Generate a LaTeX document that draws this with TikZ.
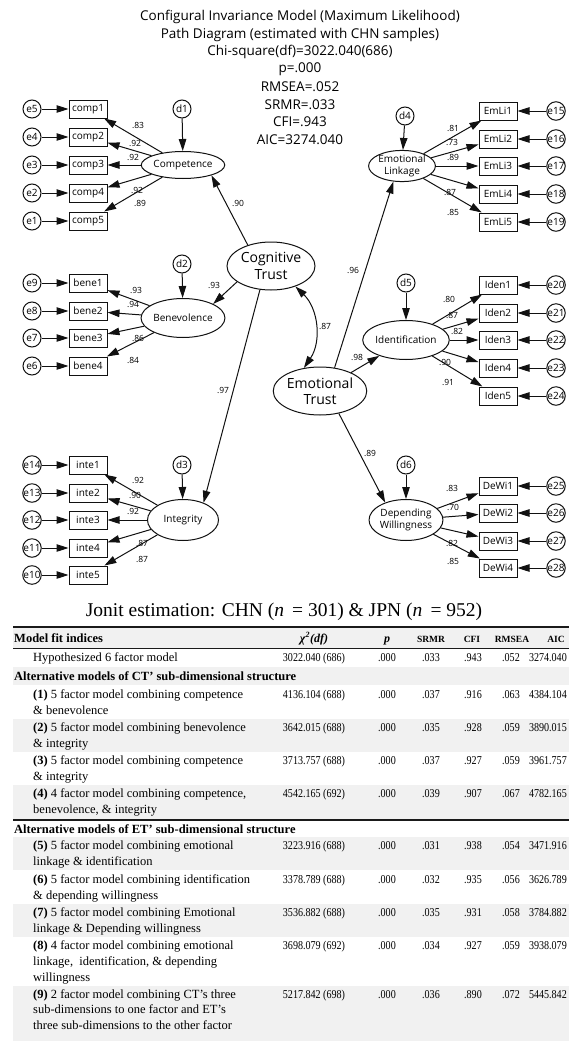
\documentclass[tikz,border=0pt]{standalone}
\usepackage{fontspec}
\usepackage{xcolor}
\usepackage{tikz}
\usetikzlibrary{arrows.meta,shapes.geometric}
\setmainfont{Liberation Serif}
\newfontfamily\amosfont{Open Sans}
\newfontfamily\tabnumfont[FakeStretch=0.84]{Liberation Serif}
\definecolor{pathblack}{HTML}{111111}
\definecolor{bandgray}{HTML}{F1F1F1}
\definecolor{rulegray}{HTML}{1A1A1A}

\tikzset{
  amosline/.style={line width=1pt, draw=pathblack, -{Triangle[length=12pt,width=7.5pt]}},
  obsbox/.style={draw=pathblack, line width=1pt, minimum width=38pt, minimum height=18pt,
    inner sep=0pt, font=\amosfont\fontsize{10}{11}\selectfont},
  errcirc/.style={draw=pathblack, circle, line width=1pt, minimum size=18pt, inner sep=0pt,
    font=\amosfont\fontsize{10}{11}\selectfont},
  latsmall/.style={draw=pathblack, ellipse, line width=1pt, minimum width=71pt,
    minimum height=39pt, inner sep=0pt, align=center,
    font=\amosfont\fontsize{10}{12}\selectfont},
  latbig/.style={latsmall, minimum width=88pt, minimum height=48pt,
    font=\amosfont\fontsize{14}{16.5}\selectfont},
  coef/.style={inner sep=0pt, font=\amosfont\fontsize{8.5}{9}\selectfont},
  fitline/.style={inner sep=0pt, font=\amosfont\fontsize{13.5}{15}\selectfont},
  celltxt/.style={anchor=base west, inner sep=0pt, font=\fontsize{12.5}{14}\selectfont},
  cellnum/.style={anchor=base, inner sep=0pt, font=\tabnumfont\fontsize{12}{14}\selectfont},
  headtxt/.style={anchor=base, inner sep=0pt, font=\bfseries\fontsize{9.5}{12}\selectfont},
}

\begin{document}
\begin{tikzpicture}[x=1pt, y=-1pt]
  \useasboundingbox (0,0) rectangle (569,1041);

  % fit summary
  \node[fitline] (fit1) at (300,17)    {Configural Invariance Model (Maximum Likelihood)};
  \node[fitline] (fit2) at (300,34.5)  {Path Diagram (estimated with CHN samples)};
  \node[fitline] (fit3) at (300,52)    {Chi-square(df)=3022.040(686)};
  \node[fitline] (fit4) at (300,69.5)  {p=.000};
  \node[fitline] (fit5) at (300,87)    {RMSEA=.052};
  \node[fitline] (fit6) at (300,104.5) {SRMR=.033};
  \node[fitline] (fit7) at (300,122)   {CFI=.943};
  \node[fitline] (fit8) at (300,139.5) {AIC=3274.040};

  % latent factors
  \node[latbig] (CogT) at (271,266) {Cognitive\\Trust};
  \node[latbig] (EmoT) at (320,391) {Emotional\\Trust};
  \node[latsmall, minimum height=27pt] (Comp) at (183,165) {Competence};
  \node[latsmall] (Bene) at (183,318) {Benevolence};
  \node[latsmall, minimum height=41pt] (Inte) at (183,520) {Integrity};
  \node[latsmall, minimum width=62pt, minimum height=31pt] (EmLk) at (402,166) {Emotional\\Linkage};
  \node[latsmall] (Iden) at (406,340) {Identification};
  \node[latsmall, minimum height=41pt] (DeWl) at (406,520) {Depending\\Willingness};

  % disturbances
  \node[errcirc] (d1) at (182,109) {d1};
  \node[errcirc] (d2) at (182,264) {d2};
  \node[errcirc] (d3) at (182,465) {d3};
  \node[errcirc] (d4) at (405,116) {d4};
  \node[errcirc] (d5) at (406,283) {d5};
  \node[errcirc] (d6) at (406,465) {d6};
  \foreach \d/\f in {d1/Comp,d2/Bene,d3/Inte,d4/EmLk,d5/Iden,d6/DeWl}
    \draw[amosline] (\d) -- (\f);

  % indicators, left side
  \foreach \n/\y/\e in {1/109/5,2/137/4,3/165/3,4/193/2,5/221/1}{
    \node[obsbox] (comp\n) at (88,\y) {comp\n};
    \node[errcirc] (e\e) at (32,\y) {e\e};
    \draw[amosline] (e\e) -- (comp\n);
    \draw[amosline] (Comp) -- (comp\n);
  }
  \foreach \n/\y/\e in {1/283/9,2/311/8,3/338/7,4/366/6}{
    \node[obsbox] (bene\n) at (88,\y) {bene\n};
    \node[errcirc] (e\e) at (32,\y) {e\e};
    \draw[amosline] (e\e) -- (bene\n);
    \draw[amosline] (Bene) -- (bene\n);
  }
  \foreach \n/\y/\e in {1/465/14,2/493/13,3/520/12,4/548/11,5/575/10}{
    \node[obsbox] (inte\n) at (88,\y) {inte\n};
    \node[errcirc] (e\e) at (32,\y) {e\e};
    \draw[amosline] (e\e) -- (inte\n);
    \draw[amosline] (Inte) -- (inte\n);
  }

  % indicators, right side
  \foreach \n/\y/\e in {1/111/15,2/139/16,3/166/17,4/194/18,5/222/19}{
    \node[obsbox] (EmLi\n) at (498,\y) {EmLi\n};
    \node[errcirc] (e\e) at (556,\y) {e\e};
    \draw[amosline] (e\e) -- (EmLi\n);
    \draw[amosline] (EmLk) -- (EmLi\n);
  }
  \foreach \n/\y/\e in {1/285/20,2/313/21,3/340/22,4/368/23,5/396/24}{
    \node[obsbox] (Iden\n) at (498,\y) {Iden\n};
    \node[errcirc] (e\e) at (556,\y) {e\e};
    \draw[amosline] (e\e) -- (Iden\n);
    \draw[amosline] (Iden) -- (Iden\n);
  }
  \foreach \n/\y/\e in {1/486/25,2/513/26,3/541/27,4/568/28}{
    \node[obsbox] (DeWi\n) at (498,\y) {DeWi\n};
    \node[errcirc] (e\e) at (556,\y) {e\e};
    \draw[amosline] (e\e) -- (DeWi\n);
    \draw[amosline] (DeWl) -- (DeWi\n);
  }

  % structural paths
  \draw[amosline] (CogT.138) -- (Comp.-20);
  \draw[amosline] (CogT.205) -- (Bene.25);
  \draw[amosline] (CogT.245) -- (Inte.40);
  \draw[amosline] (EmoT.58) -- (EmLk.241);
  \draw[amosline] (EmoT) -- (Iden);
  \draw[amosline] (EmoT.-50) -- (DeWl.140);
  \draw[amosline, {Triangle[length=12pt,width=7.5pt]}-{Triangle[length=12pt,width=7.5pt]}]
    (CogT.-40) to[bend left=40] (EmoT.125);

  % coefficients
  \foreach \nm/\x/\y/\v in {
      lc1/138/125/.83, lc2/135/143/.92, lc3/133/157/.92, lc4/137/190/.92, lc5/140/203/.89,
      lb1/136/290/.93, lb2/133/304/.94, lb3/138/338/.86, lb4/133/360/.84,
      li1/138/480/.92, li2/135/495/.90, li3/133/511/.92, li4/142/543/.87, li5/142/559/.87,
      le1/453/128/.81, le2/452/142/.73, le3/453/157/.89, le4/450/192/.87, le5/453/212/.85,
      ld1/449/299/.80, ld2/452/315/.87, ld3/457/331/.82, ld4/445/362/.90, ld5/448/382/.91,
      lw1/452/488/.83, lw2/453/507/.70, lw3/452/543/.82, lw4/453/561/.85,
      ls1/238/203/.90, ls2/214/285/.93, ls3/223/390/.97, ls4/325/326/.87,
      ls5/353/270/.96, ls6/357/357/.98, ls7/370/453/.89}
    \node[coef] (\nm) at (\x,\y) {\v};

  % fit table
  \node[inner sep=0pt, font=\fontsize{19.5}{21}\selectfont] (tabtitle) at (284,612)
    {Jonit estimation: CHN (\textit{n} \,= 301) \& JPN (\textit{n} \,= 952)};
  \foreach \ya/\yb in {627/648, 667/685, 719/752, 785/820, 837/870, 904/937, 986/1041}
    \fill[bandgray] (13,\ya) rectangle (569,\yb);
  \draw[rulegray, line width=1.1pt] (13,627) -- (569,627);
  \draw[rulegray, line width=0.6pt] (13,648) -- (569,648);
  \draw[rulegray, line width=1.1pt] (13,820) -- (569,820);

  \node[celltxt, font=\bfseries\fontsize{12.5}{14}\selectfont] (hdmodel) at (14,642) {Model fit indices};
  \node[headtxt, font=\bfseries\itshape\fontsize{12}{14}\selectfont] (hdchi) at (314,642) {χ\textsuperscript{2}(df)};
  \node[headtxt, font=\bfseries\itshape\fontsize{12}{14}\selectfont] (hdp) at (387,642) {p};
  \node[headtxt] (hdsrmr) at (431,642) {SRMR};
  \node[headtxt] (hdcfi) at (472,642) {CFI};
  \node[headtxt] (hdrmsea) at (512,642) {RMSEA};
  \node[headtxt] (hdaic) at (556,642) {AIC};

  \node[celltxt] (rh) at (33,661) {Hypothesized 6 factor model};
  \node[celltxt, font=\bfseries\fontsize{12.5}{14}\selectfont] (sct) at (14,680)
    {Alternative models of CT' sub-dimensional structure};
  \node[celltxt] (r1a) at (33,698) {\textbf{(1)} 5 factor model combining competence};
  \node[celltxt] (r1b) at (33,714) {\& benevolence};
  \node[celltxt] (r2a) at (33,731) {\textbf{(2)} 5 factor model combining benevolence};
  \node[celltxt] (r2b) at (33,747) {\& integrity};
  \node[celltxt] (r3a) at (33,764) {\textbf{(3)} 5 factor model combining competence};
  \node[celltxt] (r3b) at (33,780) {\& integrity};
  \node[celltxt] (r4a) at (33,797) {\textbf{(4)} 4 factor model combining competence,};
  \node[celltxt] (r4b) at (33,813) {benevolence, \& integrity};
  \node[celltxt, font=\bfseries\fontsize{12.5}{14}\selectfont] (set) at (14,833)
    {Alternative models of ET' sub-dimensional structure};
  \node[celltxt] (r5a) at (33,849) {\textbf{(5)} 5 factor model combining emotional};
  \node[celltxt] (r5b) at (33,865) {linkage \& identification};
  \node[celltxt] (r6a) at (33,883) {\textbf{(6)} 5 factor model combining identification};
  \node[celltxt] (r6b) at (33,899) {\& depending willingness};
  \node[celltxt] (r7a) at (33,916) {\textbf{(7)} 5 factor model combining Emotional};
  \node[celltxt] (r7b) at (33,932) {linkage \& Depending willingness};
  \node[celltxt] (r8a) at (33,949) {\textbf{(8)} 4 factor model combining emotional};
  \node[celltxt] (r8b) at (33,965) {linkage,\ \ identification, \& depending};
  \node[celltxt] (r8c) at (33,981) {willingness};
  \node[celltxt] (r9a) at (33,998) {\textbf{(9)} 2 factor model combining CT's three};
  \node[celltxt] (r9b) at (33,1013) {sub-dimensions to one factor and ET's};
  \node[celltxt] (r9c) at (33,1029) {three sub-dimensions to the other factor};

  \foreach \nm/\y/\cs/\pv/\sr/\cf/\rm/\ai in {
      h/661/3022.040 (686)/.000/.033/.943/.052/3274.040,
      m1/698/4136.104 (688)/.000/.037/.916/.063/4384.104,
      m2/731/3642.015 (688)/.000/.035/.928/.059/3890.015,
      m3/764/3713.757 (688)/.000/.037/.927/.059/3961.757,
      m4/797/4542.165 (692)/.000/.039/.907/.067/4782.165,
      m5/849/3223.916 (688)/.000/.031/.938/.054/3471.916,
      m6/883/3378.789 (688)/.000/.032/.935/.056/3626.789,
      m7/916/3536.882 (688)/.000/.035/.931/.058/3784.882,
      m8/949/3698.079 (692)/.000/.034/.927/.059/3938.079,
      m9/998/5217.842 (698)/.000/.036/.890/.072/5445.842}{
    \node[cellnum] (chi\nm) at (314,\y) {\cs};
    \node[cellnum] (p\nm) at (387,\y) {\pv};
    \node[cellnum] (sr\nm) at (431,\y) {\sr};
    \node[cellnum] (cf\nm) at (473,\y) {\cf};
    \node[cellnum] (rm\nm) at (511,\y) {\rm};
    \node[cellnum, anchor=base east] (ai\nm) at (567,\y) {\ai};
  }
\end{tikzpicture}
\end{document}
